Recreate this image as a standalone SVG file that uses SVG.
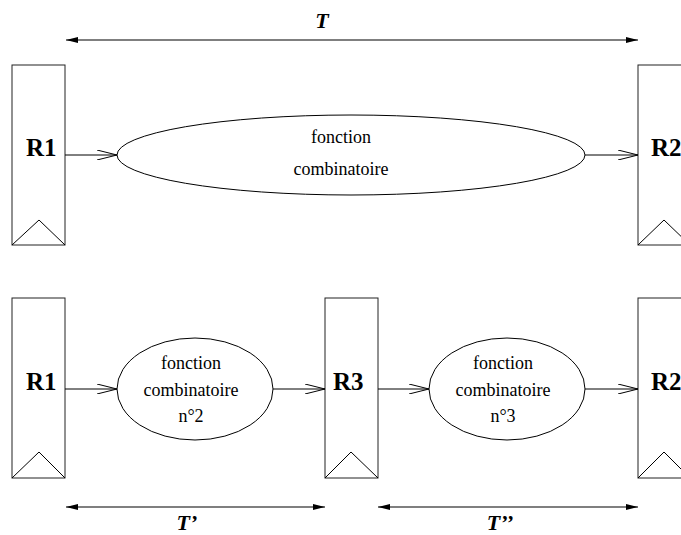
<svg xmlns="http://www.w3.org/2000/svg" width="681" height="535" viewBox="0 0 681 535">
<defs>
<style>
.reg{fill:#fff;stroke:#222;stroke-width:1}
.lbl{font-family:"Liberation Serif",serif;font-weight:bold;font-size:25px;fill:#000}
.fn{font-family:"Liberation Serif",serif;font-size:18px;fill:#000;text-anchor:middle}
.tl{font-family:"Liberation Serif",serif;font-weight:bold;font-style:italic;font-size:22px;fill:#000;text-anchor:middle}
.ell{fill:#fff;stroke:#000;stroke-width:1}
.c{stroke:#000;stroke-width:1;fill:none}
.dim{stroke:#000;stroke-width:1.2;fill:none}
</style>
<marker id="open" viewBox="0 0 20 10" refX="20" refY="5" markerWidth="20" markerHeight="10" markerUnits="userSpaceOnUse" orient="auto">
<path d="M0,0 L20,5 L0,10" fill="none" stroke="#000" stroke-width="1"/>
</marker>
<marker id="fill" viewBox="0 0 12 6" refX="12" refY="3" markerWidth="12" markerHeight="6" markerUnits="userSpaceOnUse" orient="auto-start-reverse">
<path d="M0,0 L12,3 L0,6 Z" fill="#000"/>
</marker>
</defs>

<g id="top-R1">
<rect class="reg" x="12" y="65" width="53" height="180"/>
<path class="c" d="M12,245 L39,220 L65,245"/>
<text class="lbl" x="26" y="156">R1</text>
</g>
<g id="top-F">
<ellipse class="ell" cx="351" cy="155" rx="234" ry="40"/>
<text class="fn" x="341" y="143">fonction</text>
<text class="fn" x="341" y="175">combinatoire</text>
</g>
<g id="top-R2">
<rect class="reg" x="638" y="65" width="60" height="180"/>
<path class="c" d="M638,245 L664,220 L690,245"/>
<text class="lbl" x="651" y="156">R2</text>
</g>

<g id="bot-R1">
<rect class="reg" x="12" y="298" width="53" height="180"/>
<path class="c" d="M12,478 L39,452 L65,478"/>
<text class="lbl" x="26" y="390">R1</text>
</g>
<g id="bot-F2">
<ellipse class="ell" cx="195" cy="389" rx="78" ry="51"/>
<text class="fn" x="191" y="369">fonction</text>
<text class="fn" x="191" y="396">combinatoire</text>
<text class="fn" x="191" y="422">n°2</text>
</g>
<g id="bot-R3">
<rect class="reg" x="325" y="298" width="53" height="180"/>
<path class="c" d="M325,478 L351,452 L378,478"/>
<text class="lbl" x="333" y="390">R3</text>
</g>
<g id="bot-F3">
<ellipse class="ell" cx="507" cy="389" rx="78" ry="51"/>
<text class="fn" x="503" y="369">fonction</text>
<text class="fn" x="503" y="396">combinatoire</text>
<text class="fn" x="503" y="422">n°3</text>
</g>
<g id="bot-R2">
<rect class="reg" x="638" y="298" width="60" height="180"/>
<path class="c" d="M638,478 L664,452 L690,478"/>
<text class="lbl" x="651" y="390">R2</text>
</g>

<g id="connectors">
<line class="c" x1="65" y1="155" x2="117" y2="155" marker-end="url(#open)"/>
<line class="c" x1="585" y1="155" x2="638" y2="155" marker-end="url(#open)"/>
<line class="c" x1="65" y1="389" x2="117" y2="389" marker-end="url(#open)"/>
<line class="c" x1="273" y1="389" x2="325" y2="389" marker-end="url(#open)"/>
<line class="c" x1="378" y1="389" x2="429" y2="389" marker-end="url(#open)"/>
<line class="c" x1="585" y1="389" x2="638" y2="389" marker-end="url(#open)"/>
<line class="dim" x1="66" y1="40" x2="638" y2="40" stroke="#555" marker-start="url(#fill)" marker-end="url(#fill)"/>
<line class="dim" x1="66" y1="507" x2="325" y2="507" marker-start="url(#fill)" marker-end="url(#fill)"/>
<line class="dim" x1="378" y1="507" x2="638" y2="507" marker-start="url(#fill)" marker-end="url(#fill)"/>
<text class="tl" x="322" y="28">T</text>
<text class="tl" x="187" y="530">T’</text>
<text class="tl" x="500" y="530">T’’</text>
</g>
</svg>
